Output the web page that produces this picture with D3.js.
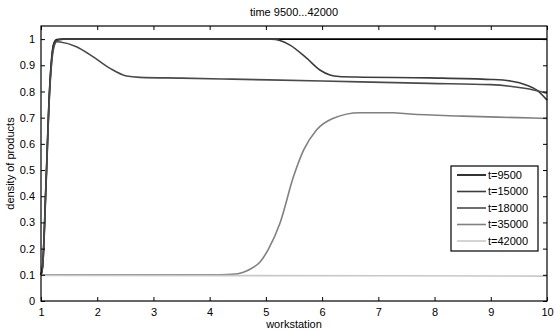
<!DOCTYPE html>
<html>
<head>
<meta charset="utf-8">
<script src="https://cdn.jsdelivr.net/npm/d3@7"></script>
<style>
  body { margin: 0; background: #fff; }
  svg { font-family: "Liberation Sans", Arial, sans-serif; }
</style>
</head>
<body>
<svg id="chart" width="555" height="331"></svg>
<script>
// values, [workstation, density]
const labels = ['t=9500', 't=15000', 't=18000', 't=35000', 't=42000'];
const colors = ['#000000', '#3c3c3c', '#4a4a4a', '#808080', '#c8c8c8'];

const t9500 = [[1, 0.1], [1.03, 0.14], [1.09, 0.46], [1.15, 0.8], [1.19, 0.93], [1.23, 0.985],
  [1.28, 0.998], [1.4, 1], [10, 1]];
const t15000 = [[1, 0.1], [1.03, 0.135], [1.09, 0.45], [1.15, 0.79], [1.19, 0.92], [1.23, 0.98],
  [1.28, 0.996], [1.4, 1], [5.1, 1], [5.25, 0.995], [5.43, 0.977], [5.73, 0.926], [5.96, 0.882],
  [6.14, 0.863], [6.3, 0.857], [6.6, 0.855], [7.9, 0.852], [9, 0.846], [9.35, 0.84],
  [9.64, 0.824], [9.82, 0.805], [10, 0.767]];
const t18000 = [[1, 0.1], [1.03, 0.13], [1.09, 0.44], [1.15, 0.78], [1.19, 0.91], [1.23, 0.97],
  [1.28, 0.99], [1.34, 0.989], [1.63, 0.971], [1.93, 0.932], [2.23, 0.888], [2.52, 0.859],
  [2.76, 0.854], [3.5, 0.851], [4.4, 0.847], [6, 0.84], [7.9, 0.831], [9, 0.826], [9.34, 0.82],
  [9.6, 0.812], [9.88, 0.8], [10, 0.793]];
const t35000 = [[1, 0.1], [4, 0.1], [4.4, 0.102], [4.6, 0.11], [4.75, 0.125], [4.9, 0.15],
  [5.05, 0.2], [5.25, 0.297], [5.49, 0.474], [5.67, 0.576], [5.9, 0.653], [6.2, 0.698],
  [6.67, 0.719], [7.26, 0.719], [7.56, 0.714], [8.5, 0.706], [9.5, 0.7], [10, 0.697]];
const t42000 = [[1, 0.098], [5, 0.097], [10, 0.095]];

const series = [t9500, t15000, t18000, t35000, t42000];
const xTicks = [1, 2, 3, 4, 5, 6, 7, 8, 9, 10];
const yTicks = [0, 0.1, 0.2, 0.3, 0.4, 0.5, 0.6, 0.7, 0.8, 0.9, 1];

const margin = { top: 26, right: 8, bottom: 30, left: 41 };
const width = 555 - margin.left - margin.right;
const height = 331 - margin.top - margin.bottom;

const svg = d3.select('#chart');
const g = svg.append('g').attr('transform', `translate(${margin.left},${margin.top})`);

const x = d3.scaleLinear().domain([1, 10]).range([0, width]);
const y = d3.scaleLinear().domain([0, 1.05]).range([height, 0]);

// lines
const line = d3.line()
  .x((d) => x(d[0]))
  .y((d) => y(d[1]))
  .curve(d3.curveMonotoneX);

g.append('g')
  .selectAll('path')
  .data(series)
  .join('path')
  .attr('fill', 'none')
  .attr('stroke', (d, i) => colors[i])
  .attr('stroke-width', 1.6)
  .attr('d', line);

// axes, ticks inward on all four sides
const tickLen = 4;
const axisStyle = (sel) => {
  sel.select('.domain').remove();
  sel.selectAll('text').attr('fill', '#000').style('font-size', '11px');
  sel.selectAll('line').attr('stroke', '#000');
};

g.append('g')
  .attr('transform', `translate(0,${height})`)
  .call(d3.axisBottom(x).tickValues(xTicks).tickSize(-tickLen).tickPadding(7).tickFormat(d3.format('d')))
  .call(axisStyle);

g.append('g')
  .call(d3.axisTop(x).tickValues(xTicks).tickSize(-tickLen).tickFormat(''))
  .call(axisStyle);

g.append('g')
  .call(d3.axisLeft(y).tickValues(yTicks).tickSize(-tickLen).tickPadding(6).tickFormat((d) => d3.format('')(d)))
  .call(axisStyle);

g.append('g')
  .attr('transform', `translate(${width},0)`)
  .call(d3.axisRight(y).tickValues(yTicks).tickSize(-tickLen).tickFormat(''))
  .call(axisStyle);

g.append('rect')
  .attr('width', width)
  .attr('height', height)
  .attr('fill', 'none')
  .attr('stroke', '#000')
  .attr('stroke-width', 1.2);

// title and axis labels
svg.append('text')
  .attr('x', margin.left + width / 2)
  .attr('y', 16)
  .attr('text-anchor', 'middle')
  .style('font-size', '11px')
  .text('time 9500...42000');

svg.append('text')
  .attr('x', margin.left + width / 2)
  .attr('y', 328)
  .attr('text-anchor', 'middle')
  .style('font-size', '11px')
  .text('workstation');

svg.append('text')
  .attr('transform', `translate(14,${margin.top + height / 2}) rotate(-90)`)
  .attr('text-anchor', 'middle')
  .style('font-size', '11px')
  .text('density of products');

// legend
const legend = svg.append('g').attr('transform', 'translate(451,166)');
const rowH = 16.5;

legend.append('rect')
  .attr('width', 87)
  .attr('height', 85)
  .attr('fill', '#fff')
  .attr('stroke', '#000')
  .attr('stroke-width', 1.2);

const rows = legend.selectAll('g.row')
  .data(labels)
  .join('g')
  .attr('class', 'row')
  .attr('transform', (d, i) => `translate(0,${9 + i * rowH})`);

rows.append('line')
  .attr('x1', 6)
  .attr('x2', 35)
  .attr('stroke', (d, i) => colors[i])
  .attr('stroke-width', 1.6);

rows.append('text')
  .attr('x', 37)
  .attr('dy', '0.35em')
  .style('font-size', '11px')
  .text((d) => d);
</script>
</body>
</html>
